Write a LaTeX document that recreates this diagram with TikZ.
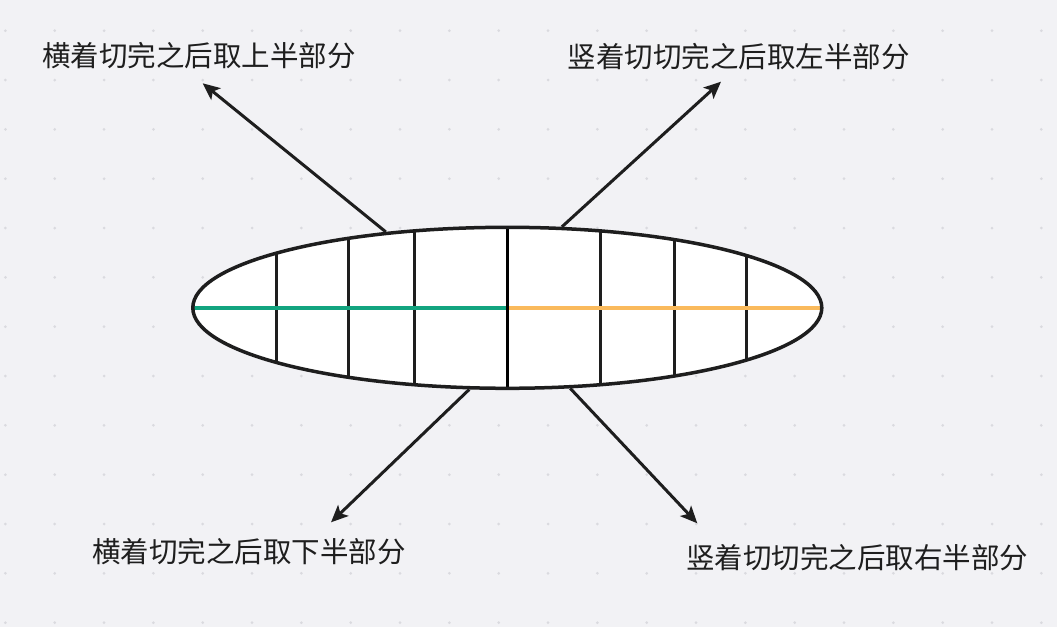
\documentclass[tikz,border=0pt]{standalone}
\usepackage{fontspec}
\setmainfont{Noto Sans CJK SC}
\usetikzlibrary{positioning, arrows.meta, shapes.geometric}
\definecolor{bgpaper}{RGB}{242,242,245}
\definecolor{dotgrey}{RGB}{218,218,223}
\definecolor{ink}{RGB}{30,30,30}
\definecolor{cutgreen}{RGB}{18,164,127}
\definecolor{cutorange}{RGB}{250,186,92}
\tikzset{
	melon/.style={ellipse, draw=ink, fill=white, line width=3.5pt, minimum width=629pt, minimum height=161pt, inner sep=0pt},
	slice/.style={draw=ink, line width=3pt},
	half/.style={line width=3.5pt},
	tag/.style={text=ink, font=\fontsize{28.5}{34}\selectfont, inner sep=0pt},
	pick/.style={draw=ink, line width=3pt, -{Stealth[length=17pt, width=15pt, inset=4pt]}},
}

\begin{document}
\begin{tikzpicture}[x=1pt, y=-1pt]

		% paper and dot grid %
		\fill[bgpaper] (0,0) rectangle (1057,627);
		\useasboundingbox (0,0) rectangle (1057,627);
		\foreach \i in {0,...,21}
			\foreach \j in {0,...,12}
				\fill[dotgrey] (5.4+49.33*\i, 30.7+49.33*\j) circle (1.5pt);

		% the melon, cut in slices (offsets from its centre) %
		\node[melon, path picture={
			\foreach \x in {-231.3, -159.3, -92.8, 92.7, 166.7, 238.7}
				\draw[slice] (\x,-100) -- (\x,100);
			\draw[half, cutgreen] (path picture bounding box.west) -- (path picture bounding box.center);
			\draw[half, cutorange] (path picture bounding box.center) -- (path picture bounding box.east);
			\draw[slice, black, line width=3.5pt] (0,-100) -- (0,100);
		}] (melon) at (507.3,307.8) {};

		% arrow tips and labels %
		\coordinate (tipTL) at (202.7,83.3);
		\coordinate (tipTR) at (721,81.7);
		\coordinate (tipBL) at (331,522.3);
		\coordinate (tipBR) at (697.3,523.3);

		\node[tag] (upper) at (199,56) {横着切完之后取上半部分};
		\node[tag] (left) at (738.5,56.5) {竖着切切完之后取左半部分};
		\node[tag] (lower) at (249,551.5) {横着切完之后取下半部分};
		\node[tag] (right) at (857,557.5) {竖着切切完之后取右半部分};

		% edges %
		\draw[pick] (melon.148.7) -- (tipTL);
		\draw[pick] (melon.56.3) -- (tipTR);
		\draw[pick] (melon.245.6) -- (tipBL);
		\draw[pick] (melon.308.8) -- (tipBR);

\end{tikzpicture}
\end{document}
